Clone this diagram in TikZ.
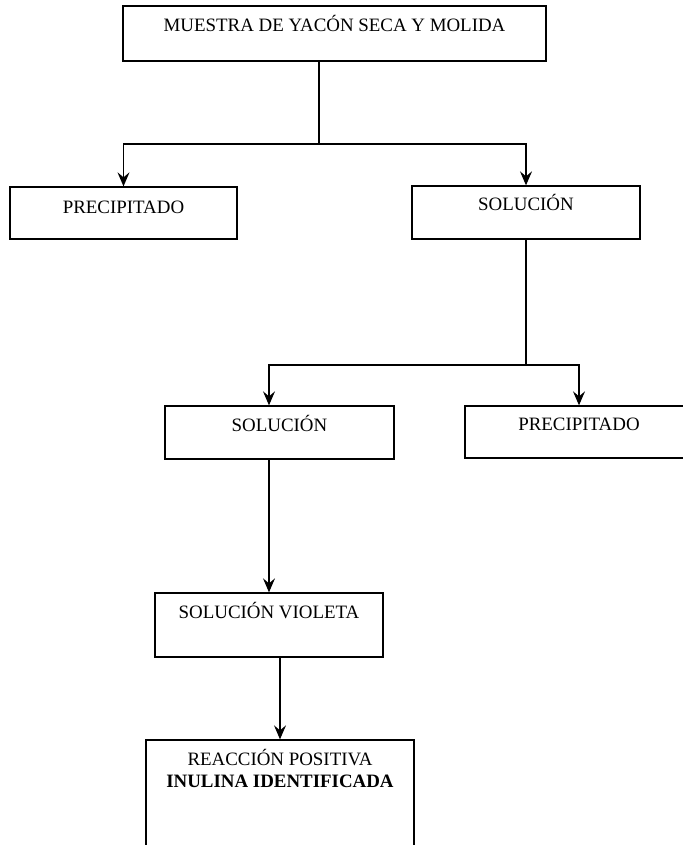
\documentclass[tikz,border=0pt]{standalone}
\usepackage{fontspec}
\setmainfont{Liberation Serif}
\usetikzlibrary{arrows.meta,positioning}
\begin{document}
\begin{tikzpicture}[x=1bp,y=-1bp,
  box/.style={draw,line width=1.3bp,rectangle,inner sep=0pt,minimum height=53bp},
  lbl/.style={inner sep=0pt,anchor=base,font=\fontsize{18.9bp}{22bp}\selectfont},
  conn/.style={line width=1.4bp},
  arr/.style={conn,-{Stealth[length=14bp,width=12bp,inset=5bp]}}]
\useasboundingbox (0,0) rectangle (683,845);
\clip (0,0) rectangle (683,845);
% boxes
\node[box,minimum width=423bp,minimum height=55bp] (top) at (334.5,33.5) {};
\node[box,minimum width=227bp,minimum height=52bp] (p1) at (123.5,213) {};
\node[box,minimum width=228bp,minimum height=53bp] (s1) at (526,212.5) {};
\node[box,minimum width=229bp,minimum height=53bp] (s2) at (279.5,432.5) {};
\node[box,minimum width=228bp,minimum height=52bp] (p2) at (579,432) {};
\node[box,minimum width=228bp,minimum height=64bp] (sv) at (269,625) {};
\node[box,minimum width=268bp,minimum height=130bp] (fin) at (280,805) {};
% texts
\node[lbl] (ttop) at ([yshift=-26bp]top.north) {MUESTRA DE YACÓN SECA Y MOLIDA};
\node[lbl] (tp1) at ([yshift=-27bp]p1.north) {PRECIPITADO};
\node[lbl] (ts1) at ([yshift=-25bp]s1.north) {SOLUCIÓN};
\node[lbl] (ts2) at ([yshift=-26bp]s2.north) {SOLUCIÓN};
\node[lbl] (tp2) at ([yshift=-25bp]p2.north) {PRECIPITADO};
\node[lbl] (tsv) at ([yshift=-26bp]sv.north) {SOLUCIÓN VIOLETA};
\node[lbl] (tf1) at ([yshift=-26bp]fin.north) {REACCIÓN POSITIVA};
\node[lbl] (tf2) at ([yshift=-48bp]fin.north) {\textbf{INULINA IDENTIFICADA}};
% connectors
\coordinate (j1) at (319,144);
\coordinate (j2) at (526,365);
\draw[conn] (top.south -| j1) -- (j1);
\draw[arr] (j1) -| (p1.north);
\draw[arr] (j1) -| (s1.north);
\draw[conn] (s1.south) -- (j2);
\draw[arr] (j2) -| (s2.north -| sv.north);
\draw[arr] (j2) -| (p2.north);
\draw[arr] (s2.south -| sv.north) -- (sv.north);
\draw[arr] (sv.south -| fin.north) -- (fin.north);
\end{tikzpicture}
\end{document}
